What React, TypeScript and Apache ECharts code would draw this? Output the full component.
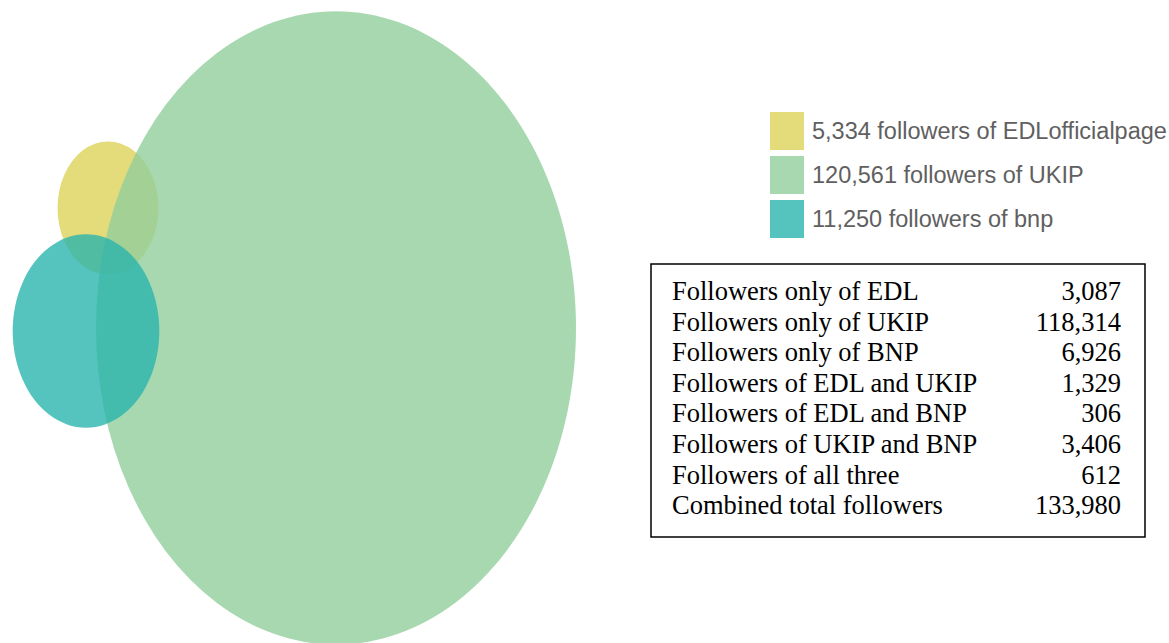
import React, { useEffect, useRef } from "react";
import * as echarts from "echarts";

// ---- data ----
const parties = ["EDLofficialpage", "UKIP", "bnp"];
const followerCounts = [5334, 120561, 11250];
const partyColors = ["#DDD25A", "#92CE9C", "#26B4AC"];

const tableLabels = [
  "Followers only of EDL",
  "Followers only of UKIP",
  "Followers only of BNP",
  "Followers of EDL and UKIP",
  "Followers of EDL and BNP",
  "Followers of UKIP and BNP",
  "Followers of all three",
  "Combined total followers",
];
const tableValues = [3087, 118314, 6926, 1329, 306, 3406, 612, 133980];

// ---- layout (Venn placement, in page pixel units) ----
const centerX = [108, 336, 86];
const centerY = [208, 328, 331];
const PX_PER_SQRT_X = 0.6912;
const PX_PER_SQRT_Y = 0.912;

const W = 1169;
const H = 643;

const fmt = (n: number) => n.toLocaleString("en-US");

export default function App() {
  const ref = useRef<HTMLDivElement>(null);
  useEffect(() => {
    if (!ref.current) return;
    const chart = echarts.init(ref.current, undefined, { renderer: "svg" });

    const series = parties.map((p, i) => {
      const s = Math.sqrt(followerCounts[i]);
      return {
        type: "scatter",
        name: `${fmt(followerCounts[i])} followers of ${p}`,
        data: [[centerX[i], centerY[i]]],
        symbol: "circle",
        symbolSize: [2 * s * PX_PER_SQRT_X, 2 * s * PX_PER_SQRT_Y],
        itemStyle: { color: partyColors[i], opacity: i === 2 ? 0.78 : 0.8 },
        z: 2 + i,
        silent: true,
        clip: false,
      };
    });

    const boxLeft = 651;
    const boxTop = 264;
    const boxW = 494;
    const boxH = 273;
    const rowTop = 291;
    const rowStep = 30.6;
    const tableFont = '26.5px "Liberation Serif", "Times New Roman", serif';

    const tableGraphics: any[] = [
      {
        type: "rect",
        shape: { x: boxLeft, y: boxTop, width: boxW, height: boxH },
        style: { fill: "#fff", stroke: "#000", lineWidth: 1.5 },
      },
    ];
    tableLabels.forEach((lab, i) => {
      tableGraphics.push({
        type: "text",
        x: 672,
        y: rowTop + i * rowStep,
        style: {
          text: lab,
          fill: "#000",
          font: tableFont,
          textAlign: "left",
          textVerticalAlign: "middle",
        },
      });
      tableGraphics.push({
        type: "text",
        x: 1121,
        y: rowTop + i * rowStep,
        style: {
          text: fmt(tableValues[i]),
          fill: "#000",
          font: tableFont,
          textAlign: "right",
          textVerticalAlign: "middle",
        },
      });
    });

    chart.setOption({
      animation: false,
      backgroundColor: "#fff",
      grid: { left: 0, right: 0, top: 0, bottom: 0 },
      xAxis: { type: "value", min: 0, max: W, show: false },
      yAxis: { type: "value", min: 0, max: H, inverse: true, show: false },
      legend: {
        orient: "vertical",
        left: 770,
        top: 112,
        padding: 0,
        itemWidth: 34,
        itemHeight: 38,
        itemGap: 6,
        icon: "rect",
        selectedMode: false,
        textStyle: {
          fontSize: 23.5,
          color: "#606060",
          fontFamily: '"Liberation Sans", Arial, sans-serif',
          padding: [0, 0, 0, 3],
        },
        data: series.map((s) => s.name),
      },
      series,
      graphic: tableGraphics,
    });
    return () => chart.dispose();
  }, []);
  return (
    <div
      ref={ref}
      style={{ position: "fixed", left: 0, top: 0, width: W, height: H }}
    />
  );
}
